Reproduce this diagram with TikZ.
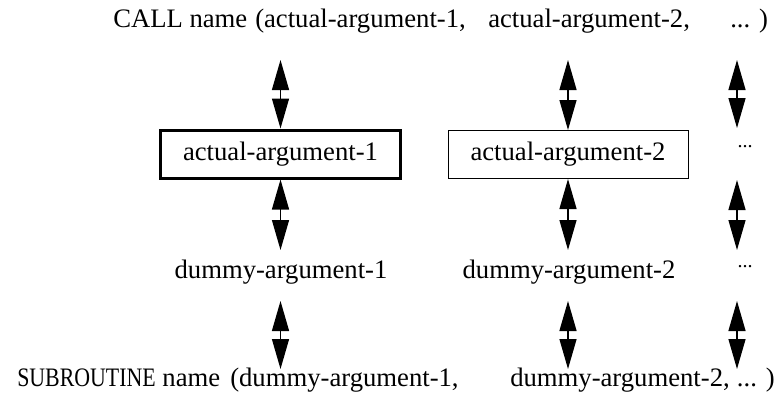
\documentclass[tikz,border=0pt]{standalone}
\usepackage{fontspec}
\setmainfont{Liberation Serif}
\usetikzlibrary{arrows.meta}
\begin{document}
\begin{tikzpicture}[x=0.75pt,y=-0.75pt,
  txt/.style={inner sep=0pt, anchor=base west, font=\fontsize{20}{24}\selectfont},
  lbl/.style={inner sep=0pt, anchor=base, font=\fontsize{20}{24}\selectfont},
  dots/.style={inner sep=0pt, anchor=base, font=\fontsize{15}{18}\selectfont},
  argbox/.style={draw, inner sep=0pt, minimum width=180pt, minimum height=36pt, font=\fontsize{20}{24}\selectfont},
  thickbox/.style={argbox, line width=2.25pt},
  thinbox/.style={argbox, line width=0.75pt},
  dbl/.style={line width=1pt, {Triangle[length=22.5pt,width=12.75pt]}-{Triangle[length=22.5pt,width=12.75pt]}}]
\useasboundingbox (0,0) rectangle (782,393);
% top line
\node[txt] (callname) at (113,27) {CALL name};
\node[txt] (call1) at (255,27) {(actual-argument-1,};
\node[txt] (call2) at (488,27) {actual-argument-2,};
\node[txt] (call3) at (730,27) {... )};
% boxes
\node[thickbox] (box1) at (280.5,154) {actual-argument-1};
\node[thinbox] (box2) at (568,154.5) {actual-argument-2};
\node[dots] (d1) at (745,147) {...};
% dummy line
\node[lbl] (dum1) at (281,278) {dummy-argument-1};
\node[lbl] (dum2) at (569,278) {dummy-argument-2};
\node[dots] (d2) at (745,267) {...};
% bottom line
\node[txt] (subname) at (17,386) {\scalebox{0.82}[1]{SUBROUTINE} name};
\node[txt] (sub1) at (230,386) {(dummy-argument-1,};
\node[txt] (sub2) at (510,386) {dummy-argument-2,};
\node[txt, anchor=base east] (sub3) at (775,386) {... )};
% arrow end points
\coordinate (a1t) at (280.5,60);
\coordinate (a2t) at (568,60);
\coordinate (a3t) at (737,60);
\coordinate (a3m) at (737,128);
\coordinate (b1b) at (280.5,250);
\coordinate (b2b) at (568,250);
\coordinate (b3t) at (737,180);
\coordinate (b3b) at (737,250);
\coordinate (c1t) at (280.5,301);
\coordinate (c1b) at (280.5,369);
\coordinate (c2t) at (568,301);
\coordinate (c2b) at (568,369);
\coordinate (c3t) at (737,301);
\coordinate (c3b) at (737,369);
% arrows
\draw[dbl] (a1t) -- (box1.north);
\draw[dbl] (a2t) -- (box2.north);
\draw[dbl] (a3t) -- (a3m);
\draw[dbl] (box1.south) -- (b1b);
\draw[dbl] (box2.south) -- (b2b);
\draw[dbl] (b3t) -- (b3b);
\draw[dbl] (c1t) -- (c1b);
\draw[dbl] (c2t) -- (c2b);
\draw[dbl] (c3t) -- (c3b);
\end{tikzpicture}
\end{document}
